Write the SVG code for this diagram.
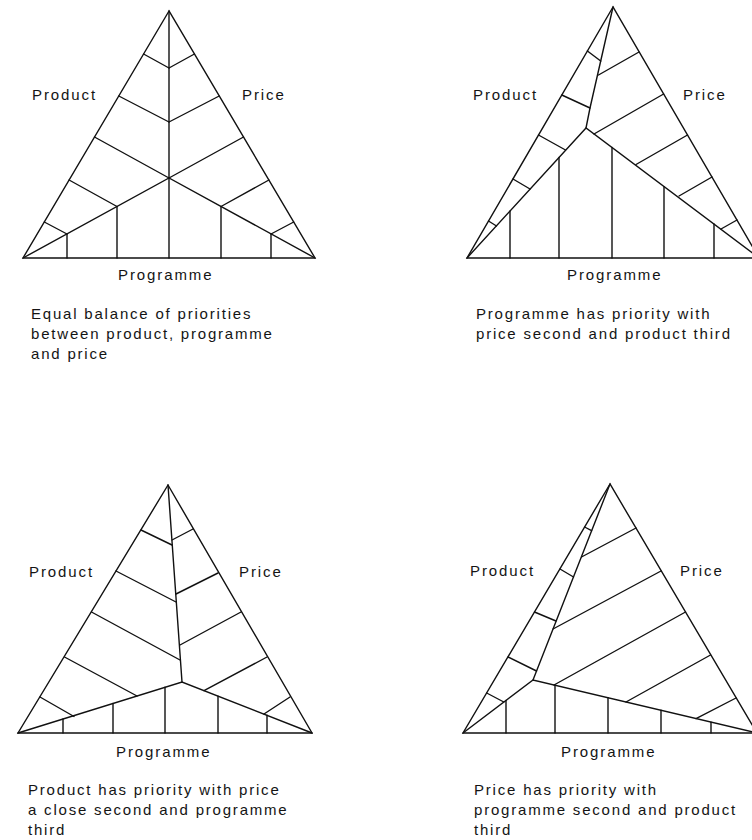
<svg xmlns="http://www.w3.org/2000/svg" width="752" height="840" viewBox="0 0 752 840">
<style>
.ln{fill:none;stroke:#111;stroke-width:1.4;stroke-linejoin:miter;stroke-linecap:round}
.lb{font-family:"Liberation Sans",Arial,sans-serif;font-size:15px;letter-spacing:1.9px;fill:#141414}
.cp{font-family:"Liberation Sans",Arial,sans-serif;font-size:15px;letter-spacing:1.8px;fill:#141414}
</style>
<rect width="752" height="840" fill="#fff"/>

<g id="triangle1">
  <g class="connectors">
    <polygon class="ln" points="169,11 23,258 315,258"/>
    <line class="ln" x1="169" y1="11" x2="169" y2="258"/>
    <polyline class="ln" points="23,258 169,178 315,258"/>
    <line class="ln" x1="143.6" y1="54" x2="169" y2="68"/>
    <line class="ln" x1="118.8" y1="96" x2="169" y2="122"/>
    <line class="ln" x1="94.5" y1="137" x2="169" y2="178"/>
    <line class="ln" x1="69.1" y1="180" x2="117" y2="206.5"/>
    <line class="ln" x1="44.3" y1="222" x2="67" y2="234"/>
    <line class="ln" x1="194.4" y1="54" x2="169" y2="68"/>
    <line class="ln" x1="219.2" y1="96" x2="169" y2="122"/>
    <line class="ln" x1="243.5" y1="137" x2="169" y2="178"/>
    <line class="ln" x1="268.9" y1="180" x2="221" y2="206.5"/>
    <line class="ln" x1="293.7" y1="222" x2="271" y2="234"/>
    <line class="ln" x1="67" y1="234" x2="67" y2="258"/>
    <line class="ln" x1="117" y1="206.5" x2="117" y2="258"/>
    <line class="ln" x1="221" y1="206.5" x2="221" y2="258"/>
    <line class="ln" x1="271" y1="234" x2="271" y2="258"/>
  </g>
  <text class="lb" x="32" y="100">Product</text>
  <text class="lb" x="242" y="100">Price</text>
  <text class="lb" x="118" y="280">Programme</text>
  <text class="cp" x="31" y="319">Equal balance of priorities</text>
  <text class="cp" x="31" y="339">between product, programme</text>
  <text class="cp" x="31" y="359">and price</text>
</g>

<g id="triangle2">
  <g class="connectors">
    <polygon class="ln" points="613,7 467,258 759,258"/>
    <polyline class="ln" points="467,258 586,128 759,258"/>
    <polyline class="ln" points="586,128 590,108 613,7"/>
    <line class="ln" x1="587.4" y1="51" x2="600.7" y2="61"/>
    <line class="ln" x1="561.8" y1="95" x2="590" y2="108"/>
    <line class="ln" x1="538.5" y1="135" x2="565.5" y2="150"/>
    <line class="ln" x1="513" y1="179" x2="530" y2="189"/>
    <line class="ln" x1="488.5" y1="221" x2="496.5" y2="226"/>
    <line class="ln" x1="639" y1="52" x2="598.5" y2="75"/>
    <line class="ln" x1="663.6" y1="94" x2="594" y2="134"/>
    <line class="ln" x1="687.5" y1="135" x2="636" y2="164.5"/>
    <line class="ln" x1="712" y1="177" x2="679" y2="196"/>
    <line class="ln" x1="737" y1="220" x2="721" y2="229"/>
    <line class="ln" x1="510" y1="211" x2="510" y2="258"/>
    <line class="ln" x1="559" y1="157.5" x2="559" y2="258"/>
    <line class="ln" x1="612" y1="147.5" x2="612" y2="258"/>
    <line class="ln" x1="664" y1="186.6" x2="664" y2="258"/>
    <line class="ln" x1="714" y1="224" x2="714" y2="258"/>
  </g>
  <text class="lb" x="473" y="100">Product</text>
  <text class="lb" x="683" y="100">Price</text>
  <text class="lb" x="567" y="280">Programme</text>
  <text class="cp" x="476" y="319">Programme has priority with</text>
  <text class="cp" x="476" y="339">price second and product third</text>
</g>

<g id="triangle3">
  <g class="connectors">
    <polygon class="ln" points="168,485 18,733 312,733"/>
    <line class="ln" x1="168" y1="485" x2="182" y2="682"/>
    <polyline class="ln" points="18,733 182,682 312,733"/>
    <line class="ln" x1="141" y1="530" x2="172" y2="545"/>
    <line class="ln" x1="116" y1="571" x2="176" y2="602"/>
    <line class="ln" x1="91.5" y1="612" x2="180" y2="660"/>
    <line class="ln" x1="64.5" y1="657" x2="137" y2="696"/>
    <line class="ln" x1="40" y1="697" x2="74" y2="716.5"/>
    <line class="ln" x1="193" y1="529" x2="172" y2="540"/>
    <line class="ln" x1="218" y1="573" x2="176" y2="594"/>
    <line class="ln" x1="241" y1="612" x2="180" y2="645"/>
    <line class="ln" x1="267" y1="657" x2="204" y2="690.6"/>
    <line class="ln" x1="290" y1="697" x2="264" y2="714"/>
    <line class="ln" x1="63" y1="719" x2="63" y2="733"/>
    <line class="ln" x1="113" y1="703.5" x2="113" y2="733"/>
    <line class="ln" x1="165" y1="687.3" x2="165" y2="733"/>
    <line class="ln" x1="218" y1="696.1" x2="218" y2="733"/>
    <line class="ln" x1="267" y1="715.3" x2="267" y2="733"/>
  </g>
  <text class="lb" x="29" y="577">Product</text>
  <text class="lb" x="239" y="577">Price</text>
  <text class="lb" x="116" y="757">Programme</text>
  <text class="cp" x="28" y="795">Product has priority with price</text>
  <text class="cp" x="28" y="815">a close second and programme</text>
  <text class="cp" x="28" y="835">third</text>
</g>

<g id="triangle4">
  <g class="connectors">
    <polygon class="ln" points="610,484 463,733 757,733"/>
    <line class="ln" x1="610" y1="484" x2="533" y2="680"/>
    <polyline class="ln" points="463,733 533,680 757,733"/>
    <line class="ln" x1="584.6" y1="527" x2="591.6" y2="530.7"/>
    <line class="ln" x1="560" y1="569" x2="573.5" y2="577"/>
    <line class="ln" x1="534.5" y1="612" x2="556" y2="621"/>
    <line class="ln" x1="508" y1="657" x2="536.5" y2="671"/>
    <line class="ln" x1="486.7" y1="693" x2="503.8" y2="702"/>
    <line class="ln" x1="636" y1="528" x2="581.5" y2="557"/>
    <line class="ln" x1="661" y1="571" x2="553" y2="629"/>
    <line class="ln" x1="685.5" y1="612" x2="554" y2="685"/>
    <line class="ln" x1="710.5" y1="655" x2="626" y2="702"/>
    <line class="ln" x1="736" y1="698" x2="696" y2="718.6"/>
    <line class="ln" x1="506" y1="700.4" x2="506" y2="733"/>
    <line class="ln" x1="555" y1="685.2" x2="555" y2="733"/>
    <line class="ln" x1="608" y1="697.8" x2="608" y2="733"/>
    <line class="ln" x1="661" y1="710.3" x2="661" y2="733"/>
    <line class="ln" x1="711" y1="722.2" x2="711" y2="733"/>
  </g>
  <text class="lb" x="470" y="576">Product</text>
  <text class="lb" x="680" y="576">Price</text>
  <text class="lb" x="561" y="757">Programme</text>
  <text class="cp" x="474" y="795">Price has priority with</text>
  <text class="cp" x="474" y="815">programme second and product</text>
  <text class="cp" x="474" y="835">third</text>
</g>
</svg>
